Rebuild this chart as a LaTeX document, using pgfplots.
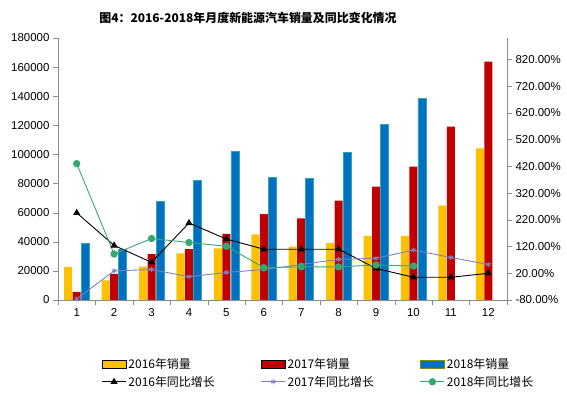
\documentclass[border=0pt]{standalone}
\usepackage{pgfplots}
\pgfplotsset{compat=1.18}
\usepackage{fontspec}
\setmainfont{Liberation Sans}
\newfontfamily\cjk{Noto Sans CJK SC}
\definecolor{cY}{HTML}{FFC000}
\definecolor{cR}{HTML}{C00000}
\definecolor{cB}{HTML}{0070C0}
\definecolor{cBe}{HTML}{31A5B5}
\definecolor{cP}{HTML}{8080C0}
\definecolor{cG}{HTML}{35A870}
\definecolor{axgray}{HTML}{8C8C8C}
\pgfplotsset{/pgf/number format/assume math mode=true,
  barleg/.style={legend image code/.code={\draw[##1] (0bp,-4bp) rectangle (24bp,4bp);}},
  lineleg/.style={legend image code/.code={\draw[mark repeat=2,mark phase=2,##1] plot coordinates {(0bp,0bp) (12bp,0bp) (24bp,0bp)};}},
}

\pgfplotstableread{
m s16 s17 s18
1 22500 5500 39000
2 13500 18000 35000
3 23000 31500 68000
4 32000 35000 82000
5 35500 45500 102000
6 45000 59000 84000
7 36600 56100 83600
8 39000 68300 101200
9 44000 77900 120700
10 44000 91600 138600
11 64800 119100 nan
12 104200 163800 nan
}\sales

\pgfplotstableread{
m g16 g17 g18
1 246 -76 430
2 124 29 92
3 61 34 150
4 208 7 135
5 148 23 121
6 110 34 41
7 110 53 44
8 110 72 44
9 38 76 51
10 5 107 47
11 5 79 nan
12 20 53 nan
}\growth

\begin{document}
\begin{tikzpicture}
\path[use as bounding box] (0bp,0bp) rectangle (567bp,395bp);
\node[font=\cjk\bfseries\fontsize{12}{14}\selectfont] at (248bp,377bp) {图4：2016-2018年月度新能源汽车销量及同比变化情况};

\begin{axis}[
  at={(58bp,95bp)}, anchor=south west,
  width=449bp, height=262bp, scale only axis,
  xmin=0.5, xmax=12.5, ymin=0, ymax=180000,
  axis x line*=bottom, axis y line*=left,
  axis line style={axgray,-},
  xtick={1,...,12},
  minor xtick={0.5,1.5,...,12.5},
  major x tick style={draw=none},
  minor x tick style={axgray},
  y tick style={axgray},
  tick align=outside,
  major tick length=5bp, minor tick length=5bp,
  ytick={0,20000,...,180000},
  scaled y ticks=false,
  yticklabel style={/pgf/number format/fixed, /pgf/number format/precision=0, /pgf/number format/set thousands separator={}},
  tick label style={font=\fontsize{11.5}{12}\selectfont},
  ybar, bar width=8bp,
]
\addplot[ybar, bar shift=-8.5bp, fill=cY, draw=none] table[x=m,y=s16] {\sales};
\addplot[ybar, bar shift=0bp, fill=cR, draw=none] table[x=m,y=s17] {\sales};
\addplot[ybar, bar shift=8.5bp, fill=cB, draw=cBe, line width=0.6bp] table[x=m,y=s18] {\sales};
\end{axis}

\begin{axis}[
  at={(58bp,95bp)}, anchor=south west,
  width=449bp, height=262bp, scale only axis,
  xmin=0.5, xmax=12.5, ymin=-80, ymax=900,
  axis x line=none, axis y line*=right,
  axis line style={axgray,-},
  y tick style={axgray},
  tick align=outside, major tick length=5bp,
  ytick={-80,20,...,820},
  yticklabel={\pgfmathprintnumber[fixed,fixed zerofill,precision=2]{\tick}\%},
  tick label style={font=\fontsize{11.5}{12}\selectfont},
  legend columns=3,
  legend style={at={(0.09,-0.207)}, anchor=north west, draw=none, fill=none,
    font=\cjk\fontsize{12}{14}\selectfont,
    /tikz/every even column/.append style={column sep=44bp},
    row sep=2bp},
  legend cell align=left,
  lineleg,
]
\addlegendimage{fill=cY, draw=none, barleg}
\addlegendentry{2016年销量}
\addlegendimage{fill=cR, draw=none, barleg}
\addlegendentry{2017年销量}
\addlegendimage{fill=cB, draw=olive, line width=0.8bp, barleg}
\addlegendentry{2018年销量}
\addplot[black, line width=0.9bp, mark=triangle*, mark size=3.2bp, mark options={fill=black}] table[x=m,y=g16] {\growth};
\addlegendentry{2016年同比增长}
\addplot[cP, line width=0.9bp, mark=asterisk, mark size=2.6bp] table[x=m,y=g17] {\growth};
\addlegendentry{2017年同比增长}
\addplot[cG, line width=0.9bp, mark=*, mark size=3.2bp, mark options={fill=cG}, unbounded coords=discard] table[x=m,y=g18] {\growth};
\addlegendentry{2018年同比增长}
\end{axis}
\end{tikzpicture}
\end{document}
